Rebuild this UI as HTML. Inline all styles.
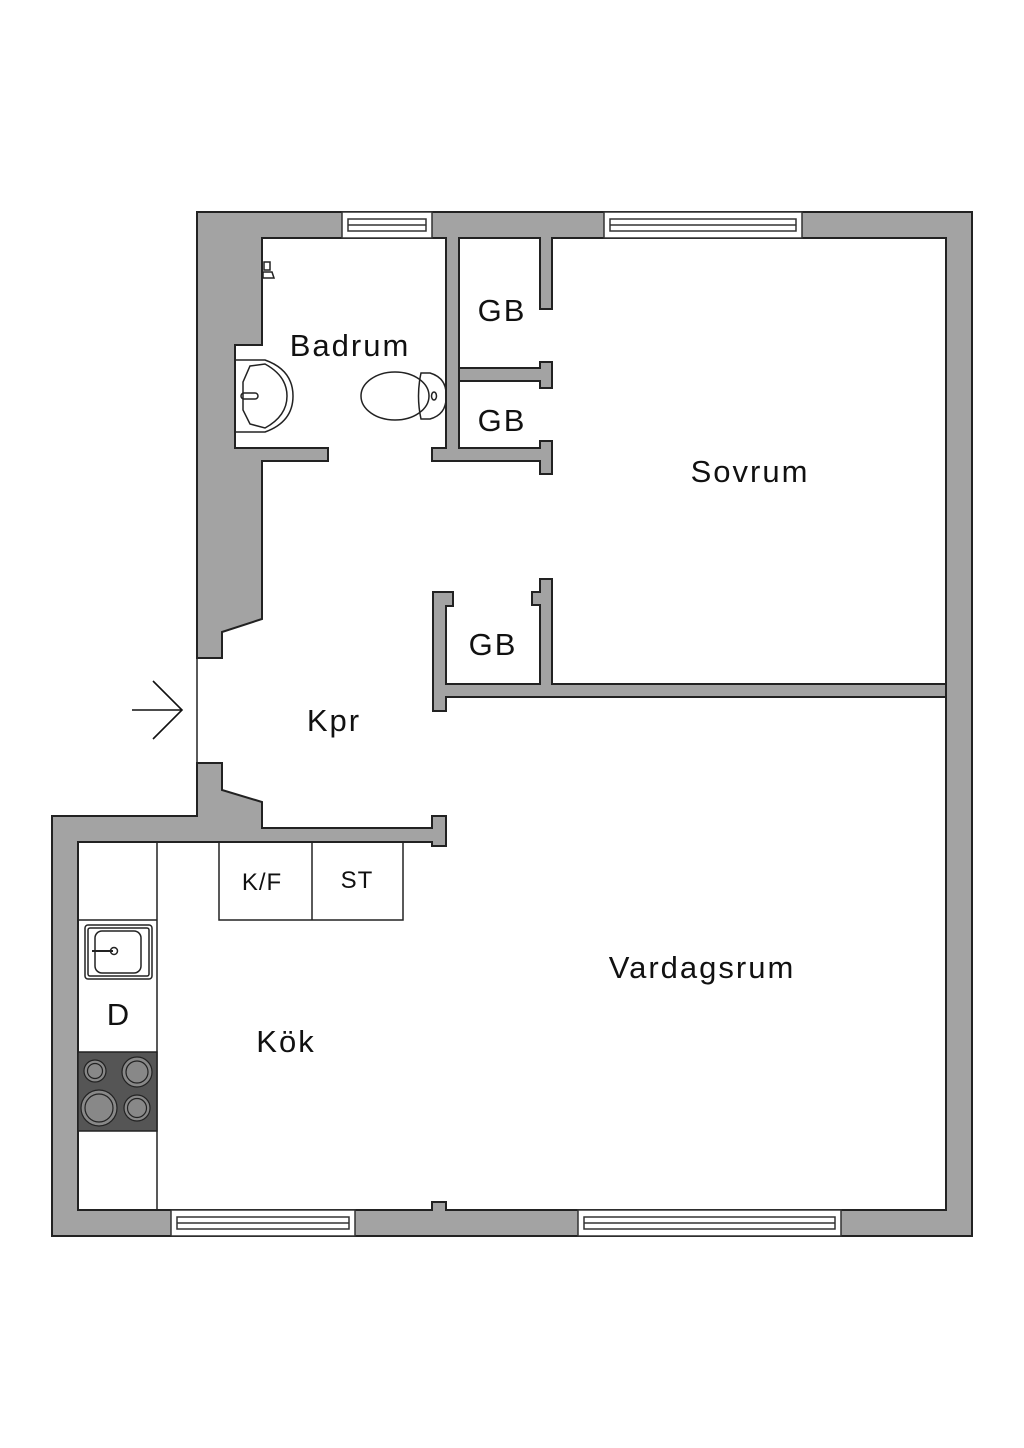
<!DOCTYPE html>
<html><head><meta charset="utf-8"><style>
html,body{margin:0;padding:0;background:#fff;}
svg{display:block;}
text{font-family:"Liberation Sans",sans-serif;fill:#111;}
.big{letter-spacing:2px;}
</style></head><body>
<svg width="1024" height="1448" viewBox="0 0 1024 1448" xmlns="http://www.w3.org/2000/svg">
<g fill="#a3a3a3" stroke="#222" stroke-width="2" stroke-linejoin="miter">
<path d="M197,212 H972 V1236 H52 V816 H197 V763 H222 V790 L262,802 V828 H432 V816 H446 V846 H432 V842 H78 V1210 H432 V1202 H446 V1210 H946 V238 H552 V309 H540 V238 H459 V448 H540 V441 H552 V474 H540 V461 H432 V448 H446 V238 H262 V345 H235 V448 H328 V461 H262 V619 L222,632 V658 H197 Z"/>
<path d="M459,368 H540 V362 H552 V388 H540 V381 H459 Z"/>
<path d="M433,592 H453 V606 H446 V684 H540 V605 H532 V592 H540 V579 H552 V684 H946 V697 H446 V711 H433 Z"/>
</g>
<line x1="197" y1="658" x2="197" y2="763" stroke="#222" stroke-width="1.5"/>
<g fill="#fff" stroke="#333" stroke-width="1.5">
<rect x="342" y="212" width="90" height="26"/><rect x="348" y="219" width="78" height="12"/><line x1="348" y1="225" x2="426" y2="225"/>
<rect x="604" y="212" width="198" height="26"/><rect x="610" y="219" width="186" height="12"/><line x1="610" y1="225" x2="796" y2="225"/>
<rect x="171" y="1210" width="184" height="26"/><rect x="177" y="1217" width="172" height="12"/><line x1="177" y1="1223" x2="349" y2="1223"/>
<rect x="578" y="1210" width="263" height="26"/><rect x="584" y="1217" width="251" height="12"/><line x1="584" y1="1223" x2="835" y2="1223"/>
</g>
<g fill="none" stroke="#222" stroke-width="1.5">
<line x1="157" y1="842" x2="157" y2="1210"/>
<line x1="78" y1="920" x2="157" y2="920"/>
<rect x="85" y="925" width="67" height="54" rx="3"/>
<rect x="88" y="928" width="61" height="48" rx="2"/>
<rect x="95" y="931" width="46" height="42" rx="7"/>
<line x1="92" y1="951" x2="113" y2="951" stroke-width="2"/>
<circle cx="114" cy="951" r="3.5"/>
<rect x="219" y="842" width="184" height="78"/>
<line x1="312" y1="842" x2="312" y2="920"/>
</g>
<rect x="78" y="1052" width="79" height="79" fill="#555" stroke="#222" stroke-width="1.5"/>
<g fill="#888" stroke="#222" stroke-width="1.2">
<circle cx="95" cy="1071" r="11"/><circle cx="95" cy="1071" r="7.5"/>
<circle cx="137" cy="1072" r="15"/><circle cx="137" cy="1072" r="11"/>
<circle cx="99" cy="1108" r="18"/><circle cx="99" cy="1108" r="14"/>
<circle cx="137" cy="1108" r="13"/><circle cx="137" cy="1108" r="9.5"/>
</g>
<g fill="none" stroke="#222" stroke-width="1.5">
<path d="M236,360 H265 Q293,370 293,396 Q293,422 265,432 H236"/>
<path d="M250,366 L265,364 Q287,376 287,396 Q287,416 265,428 L250,424 L243,410 V382 Z"/>
<rect x="241" y="393" width="17" height="6" rx="3"/>
<ellipse cx="395" cy="396" rx="34" ry="24"/>
<path d="M421,373 H430 Q447,378 446,396 Q447,414 430,419 H421 Q416,396 421,373 Z"/>
<ellipse cx="434" cy="396" rx="2.5" ry="4"/>
<rect x="264" y="262" width="6" height="8"/><path d="M263,272 H272 L274,278 H263 Z"/>
</g>
<g stroke="#111" stroke-width="1.6" fill="none">
<line x1="132" y1="710" x2="182" y2="710"/>
<polyline points="153,681 182,710 153,739"/>
</g>
<g text-anchor="middle" class="big">
<text x="350" y="356" font-size="31">Badrum</text>
<text x="502" y="321" font-size="31">GB</text>
<text x="502" y="431" font-size="31">GB</text>
<text x="493" y="655" font-size="31">GB</text>
<text x="750" y="482" font-size="31">Sovrum</text>
<text x="334" y="731" font-size="31">Kpr</text>
<text x="702" y="978" font-size="31">Vardagsrum</text>
<text x="286" y="1052" font-size="31">Kök</text>
<text x="119" y="1025" font-size="31">D</text>
</g>
<g text-anchor="middle" style="letter-spacing:1px">
<text x="262" y="890" font-size="24">K/F</text>
<text x="357" y="888" font-size="24">ST</text>
</g>
</svg>
</body></html>
